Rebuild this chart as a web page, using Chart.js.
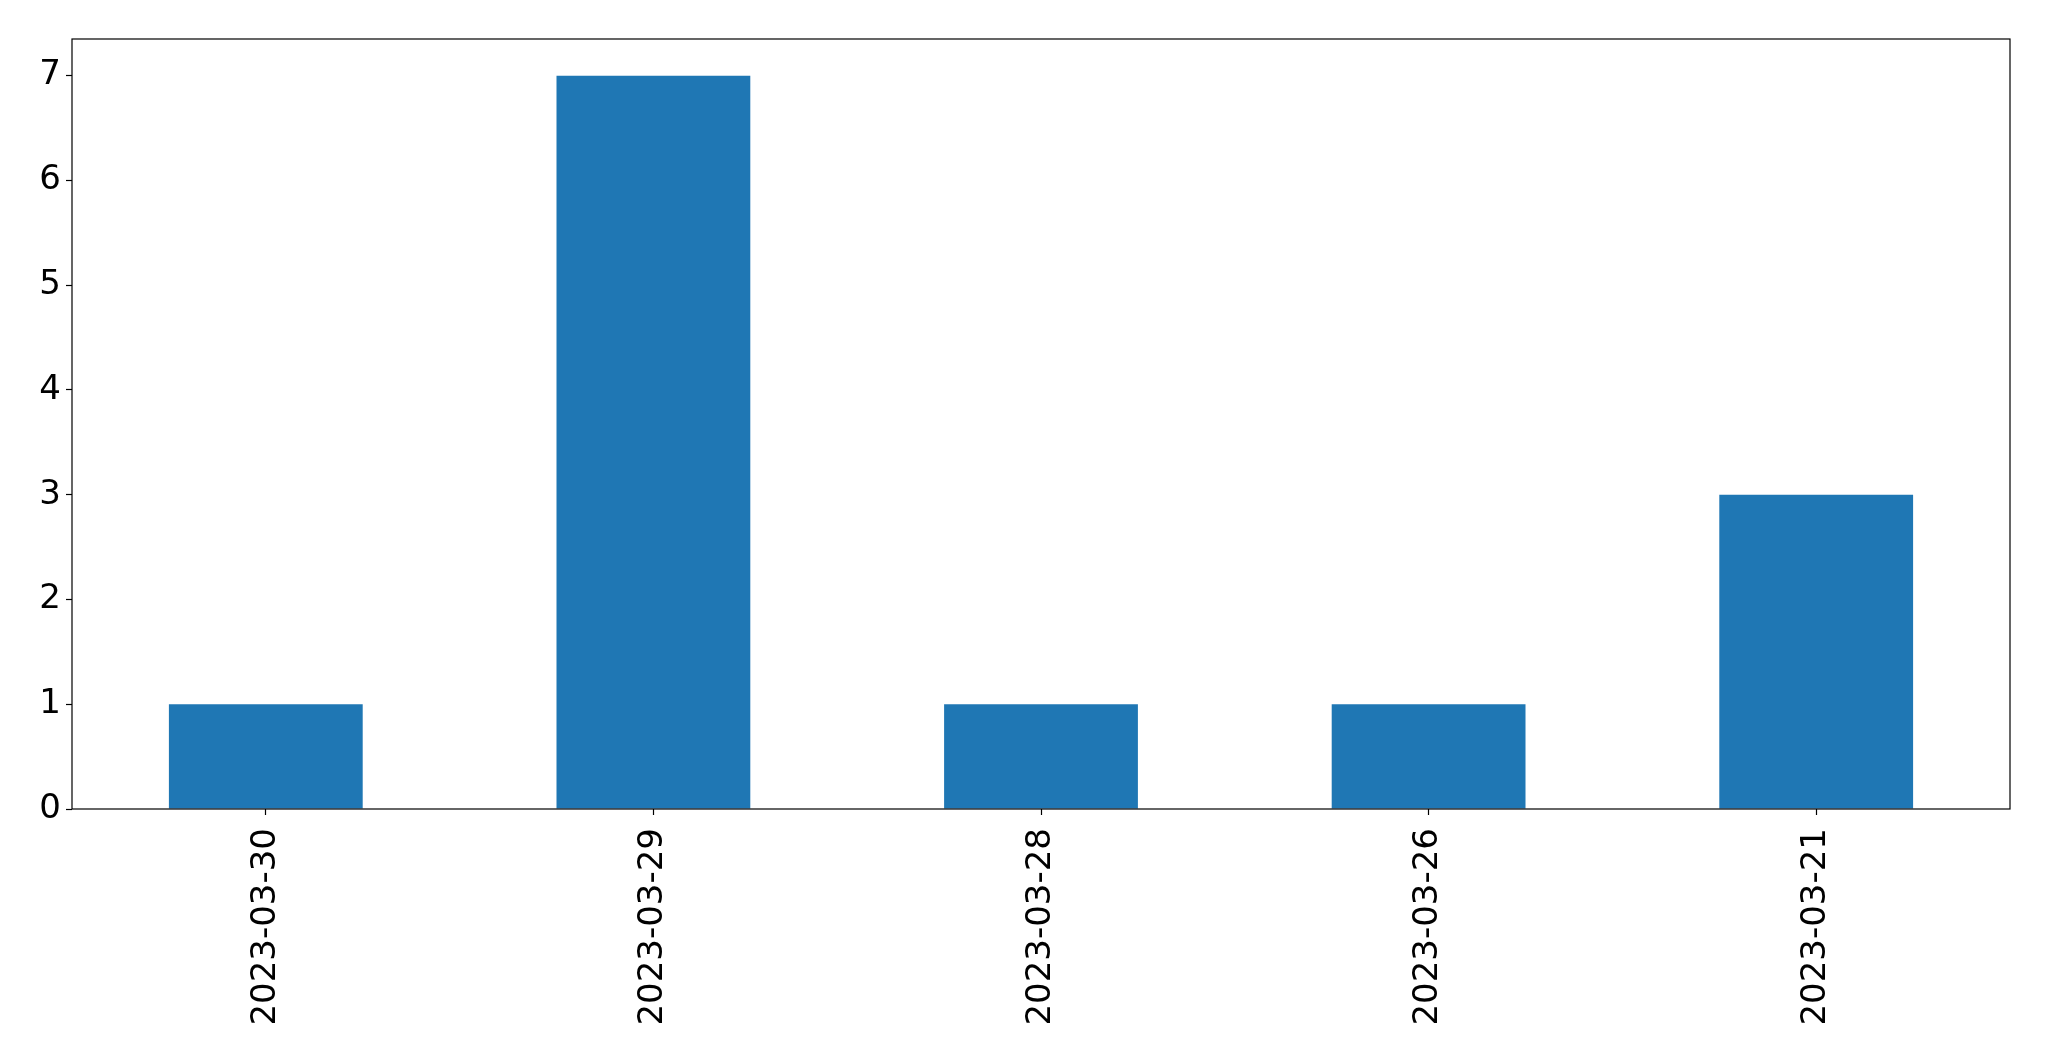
<!DOCTYPE html>
<html>
<head>
<meta charset="utf-8">
<script src="https://cdn.jsdelivr.net/npm/chart.js@4/dist/chart.umd.min.js"></script>
<style>
  html, body { margin: 0; padding: 0; background: #fff; }
  #wrap { width: 2049px; height: 1061px; }
</style>
</head>
<body>
<div id="wrap"><canvas id="chart" width="2049" height="1061"></canvas></div>
<script>
// data
const dates = ["2023-03-30", "2023-03-29", "2023-03-28", "2023-03-26", "2023-03-21"];
const counts = [1, 7, 1, 1, 3];
const yTicks = [0, 1, 2, 3, 4, 5, 6, 7];

// black box round the plot area, like matplotlib
const frame = {
    id: "frame",
    afterDraw(chart) {
        const { ctx, chartArea: a } = chart;
        ctx.save();
        ctx.strokeStyle = "#000";
        ctx.lineWidth = 1.2;
        ctx.strokeRect(a.left, a.top, a.right - a.left, a.bottom - a.top);
        ctx.restore();
    }
};

new Chart(document.getElementById("chart"), {
    type: "bar",
    data: {
        labels: dates,
        datasets: [{
            data: counts,
            backgroundColor: "#1f77b4",
            barPercentage: 0.5,
            categoryPercentage: 1.0,
        }],
    },
    options: {
        responsive: false,
        animation: false,
        layout: { padding: { left: 0, top: 39, right: 39, bottom: 0 } },
        plugins: { legend: { display: false }, tooltip: { enabled: false } },
        scales: {
            x: {
                afterFit: (s) => { s.height = 252; },
                grid: { display: true, drawOnChartArea: false, offset: false, tickLength: 6, color: "#000", tickWidth: 1.2 },
                border: { display: false },
                ticks: {
                    maxRotation: 90, minRotation: 90, padding: 13,
                    color: "#000",
                    font: { family: "DejaVu Sans", size: 34 },
                },
            },
            y: {
                min: 0,
                max: 7.35,
                afterFit: (s) => { s.width = 72; },
                afterBuildTicks: (s) => { s.ticks = yTicks.map(v => ({ value: v })); },
                grid: { display: true, drawOnChartArea: false, tickLength: 6, color: "#000", tickWidth: 1.2 },
                border: { display: false },
                ticks: {
                    includeBounds: false,
                    padding: 5,
                    color: "#000",
                    font: { family: "DejaVu Sans", size: 34 },
                },
            },
        },
    },
    plugins: [frame],
});
</script>
</body>
</html>
